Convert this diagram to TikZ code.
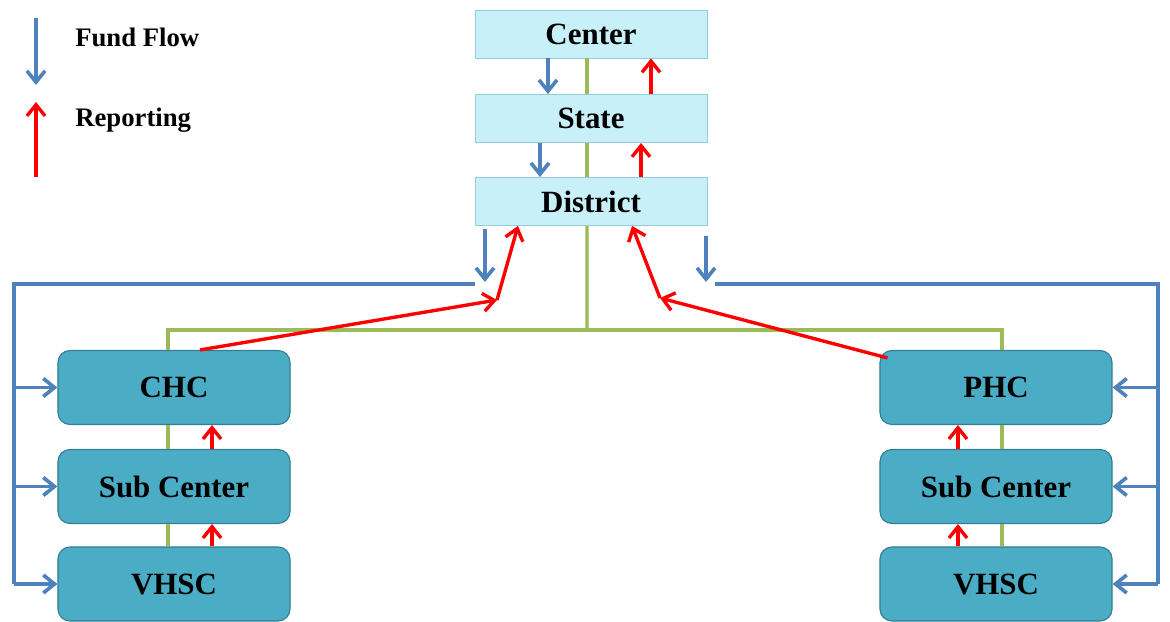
\documentclass[tikz,border=0pt]{standalone}
\usepackage{fontspec}
\setmainfont{Liberation Serif}
\usepackage{tikz}
\usetikzlibrary{arrows.meta, positioning}

\definecolor{fundblue}{RGB}{79,129,189}
\definecolor{tiegreen}{RGB}{155,187,89}
\definecolor{topfill}{RGB}{200,240,248}
\definecolor{topline}{RGB}{150,205,222}
\definecolor{lowfill}{RGB}{75,172,198}
\definecolor{lowline}{RGB}{52,125,146}

\tikzset{
  topbox/.style={draw=topline, fill=topfill, line width=0.6pt, minimum width=5.8cm,
    minimum height=1.2cm, inner sep=0pt, font=\fontsize{22}{26}\selectfont\bfseries},
  lowbox/.style={draw=lowline, fill=lowfill, line width=0.8pt, rounded corners=0.3cm,
    minimum width=5.8cm, minimum height=1.85cm, inner sep=0pt,
    font=\fontsize{22}{26}\selectfont\bfseries},
  legend/.style={anchor=west, inner sep=0pt, font=\fontsize{19}{23}\selectfont\bfseries},
  fund/.style={draw=fundblue, line width=2.6pt, -{Straight Barb[length=0.28cm,width=0.45cm]}},
  fundline/.style={draw=fundblue, line width=2.6pt},
  report/.style={draw=red, line width=2.4pt, -{Straight Barb[length=0.28cm,width=0.45cm]}},
  tie/.style={draw=tiegreen, line width=2.4pt}
}

\begin{document}
\begin{tikzpicture}[x=0.025cm, y=-0.025cm]
  	\useasboundingbox (0,0) rectangle (1170,622);

  	% green ties behind the boxes
  	\coordinate (hub) at (587,330);

  	\node[topbox] (Center) at (591,34) {Center};
  	\node[topbox] (State) at (591,118.5) {State};
  	\node[topbox] (District) at (591,201.5) {District};

  	\node[lowbox] (CHC) at (174,387.5) {CHC};
  	\node[lowbox] (SubL) at (174,486.5) {Sub Center};
  	\node[lowbox] (VhscL) at (174,584) {VHSC};

  	\node[lowbox] (PHC) at (996,387.5) {PHC};
  	\node[lowbox] (SubR) at (996,486.5) {Sub Center};
  	\node[lowbox] (VhscR) at (996,584) {VHSC};

  	\draw[tie] ([xshift=-0.1cm]Center.south) -- ([xshift=-0.1cm]State.north);
  	\draw[tie] ([xshift=-0.1cm]State.south) -- ([xshift=-0.1cm]District.north);
  	\draw[tie] ([xshift=-0.1cm]District.south) -- (hub);
  	\draw[tie] ([xshift=-0.15cm]CHC.north) |- (hub) -| ([xshift=0.15cm]PHC.north);
  	\draw[tie] ([xshift=-0.15cm]CHC.south) -- ([xshift=-0.15cm]SubL.north);
  	\draw[tie] ([xshift=-0.15cm]SubL.south) -- ([xshift=-0.15cm]VhscL.north);
  	\draw[tie] ([xshift=0.15cm]PHC.south) -- ([xshift=0.15cm]SubR.north);
  	\draw[tie] ([xshift=0.15cm]SubR.south) -- ([xshift=0.15cm]VhscR.north);

  	% legend
  	\coordinate (LF1) at (36,18);
  	\coordinate (LF2) at (36,85);
  	\coordinate (LR1) at (36,177);
  	\coordinate (LR2) at (36,102);
  	\draw[fund] (LF1) -- (LF2);
  	\draw[report] (LR1) -- (LR2);
  	\node[legend] (LFund) at (75,37) {Fund Flow};
  	\node[legend] (LRep) at (75,120) {Reporting};

  	% fund flow down the top
  	\draw[fund] ([xshift=-1.075cm]Center.south) -- ([xshift=-1.075cm]State.north);
  	\draw[fund] ([xshift=-1.275cm]State.south) -- ([xshift=-1.275cm]District.north);
  	\draw[report] ([xshift=1.5cm]State.north) -- ([xshift=1.5cm]Center.south);
  	\draw[report] ([xshift=1.25cm]District.north) -- ([xshift=1.25cm]State.south);

  	% fund flow to the blocks
  	\coordinate (busL) at (14,284);
  	\coordinate (busR) at (1158,284);
  	\coordinate (dropL) at (485,282);
  	\coordinate (dropR) at (706,282);
  	\draw[fund] ([xshift=-2.65cm,yshift=-0.08cm]District.south) -- (dropL);
  	\draw[fund] ([xshift=2.875cm,yshift=-0.25cm]District.south) -- (dropR);
  	\draw[fundline] (475,284) -- (busL) -- (busL |- VhscL.west);
  	\draw[fundline] (715,284) -- (busR) -- (busR |- VhscR.east);
  	\draw[fund] (busL |- CHC.west) -- (CHC.west);
  	\draw[fund] (busL |- SubL.west) -- (SubL.west);
  	\draw[fund] (busL |- VhscL.west) -- (VhscL.west);
  	\draw[fund] (busR |- PHC.east) -- (PHC.east);
  	\draw[fund] (busR |- SubR.east) -- (SubR.east);
  	\draw[fund] (busR |- VhscR.east) -- (VhscR.east);

  	% reporting up
  	\coordinate (kinkL) at (497,300);
  	\coordinate (kinkR) at (660,298);
  	\draw[report] ([xshift=0.65cm]CHC.north) -- (kinkL);
  	\draw[report] (kinkL) -- ([xshift=-1.825cm]District.south);
  	\draw[report] ([shift={(8,8)}]PHC.north west) -- (kinkR);
  	\draw[report] (kinkR) -- ([xshift=1.025cm]District.south);

  	\draw[report] ([xshift=0.95cm]SubL.north) -- ([xshift=0.95cm]CHC.south);
  	\draw[report] ([xshift=0.95cm]VhscL.north) -- ([xshift=0.95cm]SubL.south);
  	\draw[report] ([xshift=-0.95cm]SubR.north) -- ([xshift=-0.95cm]PHC.south);
  	\draw[report] ([xshift=-0.95cm]VhscR.north) -- ([xshift=-0.95cm]SubR.south);
\end{tikzpicture}
\end{document}
